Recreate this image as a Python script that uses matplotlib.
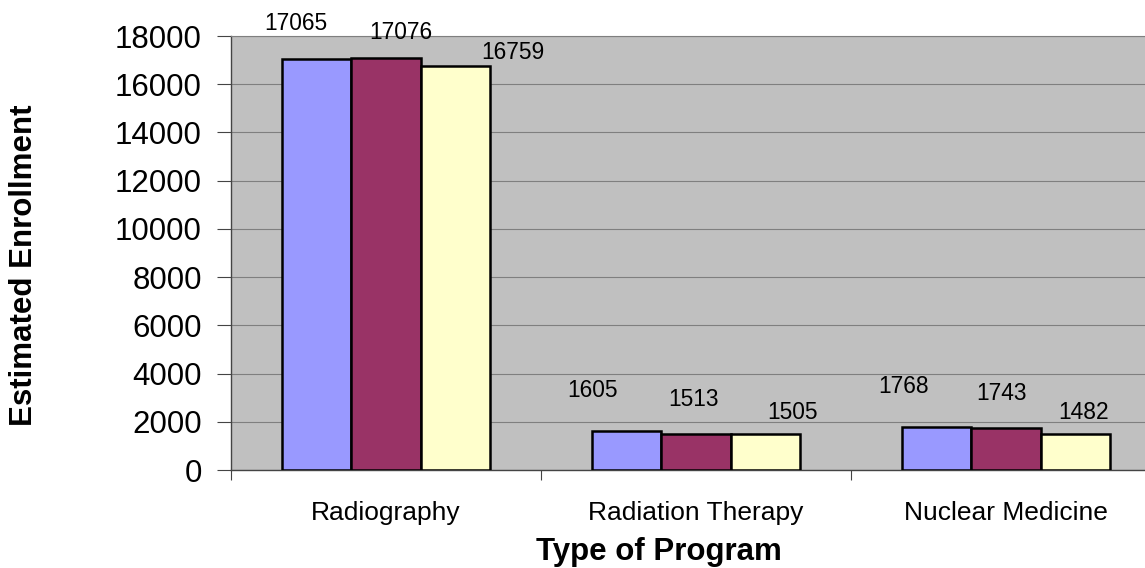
import matplotlib
matplotlib.use("Agg")
import matplotlib.pyplot as plt
import numpy as np

categories = ["Radiography", "Radiation Therapy", "Nuclear Medicine"]
series_a = [17065, 1605, 1768]
series_b = [17076, 1513, 1743]
series_c = [16759, 1505, 1482]
yticks = [0, 2000, 4000, 6000, 8000, 10000, 12000, 14000, 16000, 18000]

colors = ["#9999FF", "#993366", "#FFFFCC"]
# label offsets in pixels (dx, dy of glyph centre above bar top), per series per category
label_offsets = [
    [(-21, 37), (-34, 42), (-33, 42)],
    [(15, 27), (-2, 36), (-4, 36)],
    [(58, 15), (27, 23), (9, 23)],
]

plt.rcParams['font.family'] = ['Liberation Sans', 'DejaVu Sans']

fig = plt.figure(figsize=(11.45, 5.68), dpi=100)
ax = fig.add_axes([231 / 1145, 98 / 568, 930 / 1145, 434 / 568])
ax.set_facecolor("#C0C0C0")

x = np.arange(len(categories)) + 0.5
w = 0.2226
all_series = [series_a, series_b, series_c]
for i, (vals, col) in enumerate(zip(all_series, colors)):
    xs = x + (i - 1) * w
    ax.bar(xs, vals, width=w, color=col, edgecolor="black", linewidth=1.8, zorder=3)
    for j, (xx, v) in enumerate(zip(xs, vals)):
        dx, dy = label_offsets[i][j]
        ax.annotate(str(v), xy=(xx, v), xytext=(dx, dy - 8), textcoords="offset pixels",
                    ha="center", va="baseline", fontsize=16.4, color="black",
                    annotation_clip=False, zorder=5)

ax.set_xlim(0, 3)
ax.set_ylim(0, 18000)
ax.set_yticks(yticks)
ax.set_yticklabels([str(t) for t in yticks])
ax.yaxis.grid(True, color="#7F7F7F", linewidth=0.8, zorder=1)
ax.set_axisbelow(True)

ax.set_xticks([0, 1, 2, 3])
ax.set_xticklabels([])
ax.set_xticks(x, minor=True)
ax.set_xticklabels(categories, minor=True)
ax.tick_params(axis="x", which="minor", length=0, pad=22, labelsize=19)
ax.tick_params(axis="x", which="major", length=7, width=0.8, color="#444444")
ax.tick_params(axis="y", length=10, width=0.8, color="#444444", pad=11, labelsize=22.5)

for s in ["top", "right"]:
    ax.spines[s].set_color("#7F7F7F")
    ax.spines[s].set_linewidth(0.8)
ax.spines["left"].set_color("#444444")
ax.spines["bottom"].set_color("#444444")
ax.spines["left"].set_linewidth(1.0)
ax.spines["bottom"].set_linewidth(1.0)

fig.text(24 / 1145, (568 - 265) / 568, "Estimated Enrollment", rotation=90,
         ha="center", va="center", fontsize=22.5, fontweight="bold")
fig.text(659 / 1145, (568 - 552) / 568, "Type of Program",
         ha="center", va="center", fontsize=22.5, fontweight="bold")

fig.savefig("out.png", dpi=100)
